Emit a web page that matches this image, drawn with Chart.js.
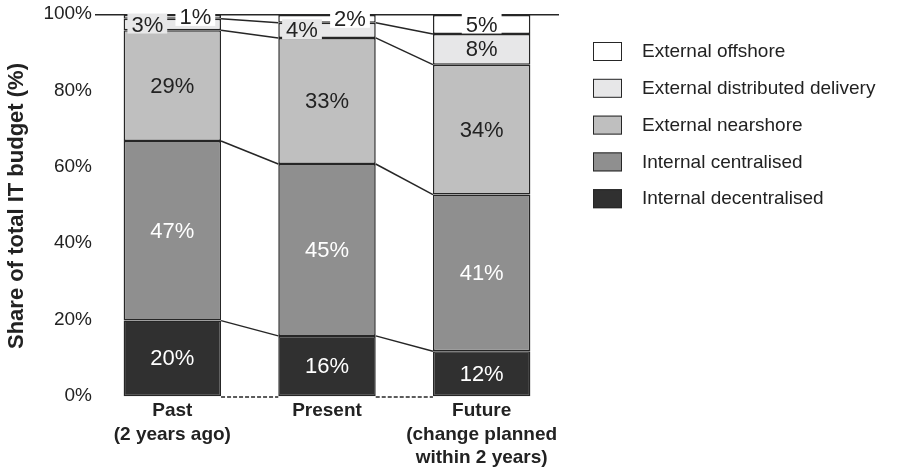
<!DOCTYPE html>
<html>
<head>
<meta charset="utf-8">
<script src="https://cdn.jsdelivr.net/npm/chart.js@4/dist/chart.umd.min.js"></script>
<style>
  html, body { margin: 0; padding: 0; background: #fff; }
</style>
</head>
<body>
<canvas id="chart" width="900" height="470"></canvas>
<script>
var categories = [['Past', '(2 years ago)'], ['Present'], ['Future', '(change planned', 'within 2 years)']];
var seriesNames = ['Internal decentralised', 'Internal centralised', 'External nearshore', 'External distributed delivery', 'External offshore'];
var internalDecentralised = [20, 16, 12];
var internalCentralised = [47, 45, 41];
var externalNearshore = [29, 33, 34];
var externalDistributed = [3, 4, 8];
var externalOffshore = [1, 2, 5];
var yTicks = [0, 20, 40, 60, 80, 100];

var fills = ['#303030', '#8f8f8f', '#bfbfbf', '#e7e7e8', '#ffffff'];
var textColors = ['#ffffff', '#ffffff', '#222222', '#222222', '#222222'];
var lineColor = '#262626';
var fontFamily = '"Liberation Sans", Arial, sans-serif';

var seriesValues = [internalDecentralised, internalCentralised, externalNearshore, externalDistributed, externalOffshore];

// connector lines, dashed base, segment labels and legend
var extrasPlugin = {
    id: 'extras',
    afterDatasetsDraw: function(chart) {
        var ctx = chart.ctx;
        var metas = [];
        for (var d = 0; d < chart.data.datasets.length; d++) {
            metas.push(chart.getDatasetMeta(d));
        }
        var zero = chart.scales.y.getPixelForValue(0);

        ctx.save();
        ctx.strokeStyle = lineColor;
        ctx.lineWidth = 1.5;
        for (var d = 0; d < metas.length - 1; d++) {
            var bars = metas[d].data;
            for (var c = 0; c < bars.length - 1; c++) {
                var a = bars[c], b = bars[c + 1];
                ctx.beginPath();
                ctx.moveTo(a.x + a.width / 2, a.y);
                ctx.lineTo(b.x - b.width / 2, b.y);
                ctx.stroke();
            }
        }
        ctx.setLineDash([4, 2]);
        var base = metas[0].data;
        for (var c = 0; c < base.length - 1; c++) {
            ctx.beginPath();
            ctx.moveTo(base[c].x + base[c].width / 2, zero);
            ctx.lineTo(base[c + 1].x - base[c + 1].width / 2, zero);
            ctx.stroke();
        }
        ctx.setLineDash([]);

        ctx.font = '22px ' + fontFamily;
        ctx.textAlign = 'center';
        ctx.textBaseline = 'middle';
        for (var d = 0; d < metas.length; d++) {
            for (var c = 0; c < metas[d].data.length; c++) {
                var bar = metas[d].data[c];
                var v = chart.data.datasets[d].data[c];
                var txt = v + '%';
                var cx = bar.x;
                var cy = (bar.y + bar.base) / 2;
                if (v <= 4) {
                    cx += (d === 3 ? -25 : 23);
                }
                if (d >= 3) {
                    var w = ctx.measureText(txt).width + 8;
                    ctx.fillStyle = fills[d];
                    ctx.fillRect(cx - w / 2, cy - 11, w, 20);
                }
                ctx.fillStyle = textColors[d];
                ctx.fillText(txt, cx, cy + 1);
            }
        }
        ctx.restore();
    },
    afterDraw: function(chart) {
        var ctx = chart.ctx;
        var x0 = chart.chartArea.right + 34;
        var y0 = 42;
        var step = 36.8;
        ctx.save();
        ctx.font = '19px ' + fontFamily;
        ctx.textAlign = 'left';
        ctx.textBaseline = 'middle';
        var row = 0;
        for (var d = seriesNames.length - 1; d >= 0; d--) {
            var top = y0 + row * step;
            ctx.fillStyle = fills[d];
            ctx.fillRect(x0, top, 29, 19);
            ctx.strokeStyle = lineColor;
            ctx.lineWidth = 1;
            ctx.strokeRect(x0 + 0.5, top + 0.5, 28, 18);
            ctx.fillStyle = '#222222';
            ctx.fillText(seriesNames[d], x0 + 49, top + 10);
            row++;
        }
        ctx.restore();
    }
};

var datasets = [];
for (var s = 0; s < seriesNames.length; s++) {
    datasets.push({
        label: seriesNames[s],
        data: seriesValues[s],
        backgroundColor: fills[s],
        borderColor: lineColor,
        borderWidth: 1.5,
        borderSkipped: false,
        barPercentage: 0.63,
        categoryPercentage: 1
    });
}

var config = {
    type: 'bar',
    plugins: [extrasPlugin],
    data: {
        labels: categories,
        datasets: datasets
    },
    options: {
        responsive: false,
        animation: false,
        layout: {
            padding: { left: 0, right: 341, top: 15, bottom: 0 }
        },
        plugins: {
            legend: { display: false },
            tooltip: { enabled: false }
        },
        scales: {
            x: {
                stacked: true,
                grid: { display: false, drawTicks: false },
                border: { display: false },
                ticks: {
                    color: '#222222',
                    font: { family: fontFamily, size: 19, weight: 'bold', lineHeight: 1.24 },
                    padding: 2,
                    maxRotation: 0,
                    autoSkip: false
                },
                afterFit: function(scale) { scale.height = 73; }
            },
            y: {
                stacked: true,
                min: 0,
                max: 100,
                afterBuildTicks: function(scale) {
                    scale.ticks = yTicks.map(function(v) { return { value: v }; });
                },
                ticks: {
                    color: '#222222',
                    font: { family: fontFamily, size: 19 },
                    padding: 3,
                    labelOffset: -1,
                    callback: function(v) { return v + '%'; }
                },
                grid: {
                    drawTicks: false,
                    lineWidth: 1.5,
                    color: function(c) { return (c.tick && c.tick.value === 100) ? lineColor : 'rgba(0,0,0,0)'; }
                },
                border: { display: false },
                title: {
                    display: true,
                    text: 'Share of total IT budget (%)',
                    color: '#222222',
                    font: { family: fontFamily, size: 22, weight: 'bold' },
                    padding: { top: 4, bottom: 0 }
                },
                afterFit: function(scale) { scale.width = 95; }
            }
        }
    }
};

var ctx = document.getElementById('chart').getContext('2d');
window.myChart = new Chart(ctx, config);
</script>
</body>
</html>
